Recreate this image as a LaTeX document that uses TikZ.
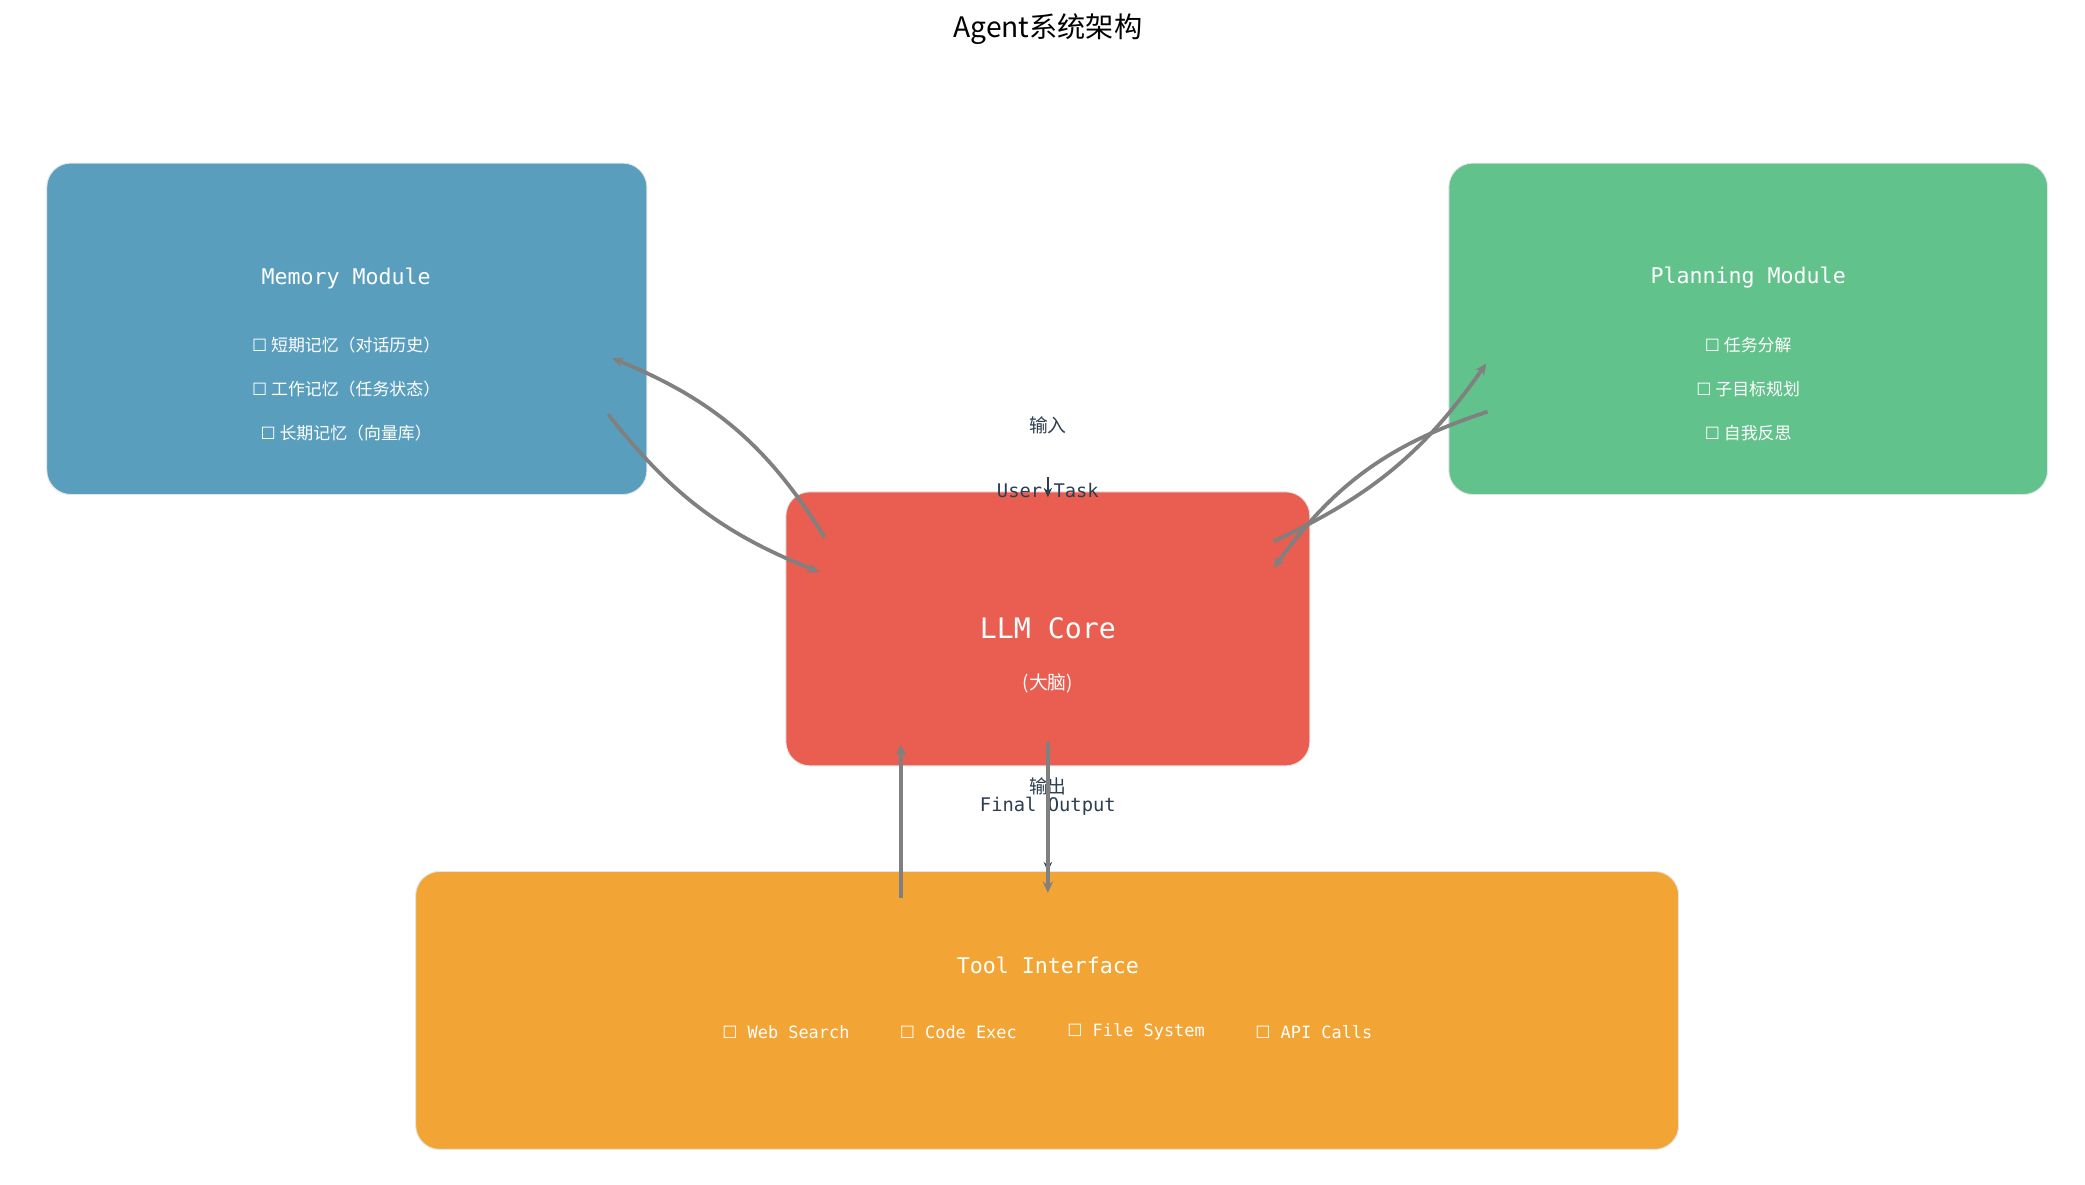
\documentclass[tikz,border=0pt]{standalone}
\usepackage{fontspec}
\setmainfont{DejaVu Sans Mono}
\newfontfamily\cjk{Noto Sans CJK SC}
\newfontfamily\sym{DejaVu Sans}
\usetikzlibrary{arrows.meta}
\definecolor{mem}{HTML}{5A9EBE}
\definecolor{plan}{HTML}{62C28B}
\definecolor{llm}{HTML}{E95E50}
\definecolor{tool}{HTML}{F2A535}
\definecolor{ink}{HTML}{2C3E50}
\newcommand{\bx}{{\sym ☐}}
\begin{document}
\begin{tikzpicture}[x=0.05cm,y=-0.05cm,
  box/.style={draw=white!90!black,line width=1pt,rounded corners=0.9cm},
  ttl/.style={text=white,font=\fontsize{23}{26}\selectfont},
  itm/.style={text=white,font=\cjk\fontsize{18}{20}\selectfont},
  lbl/.style={text=ink,font=\fontsize{20}{22}\selectfont},
  arr/.style={draw=gray,line width=4pt,-{Stealth[length=12pt,width=11pt]}}]
\useasboundingbox (0,0) rectangle (1560,886);
\node[font=\cjk\fontsize{30}{34}\selectfont] (title) at (784,22) {Agent系统架构};
\fill[mem,box] (35,122) rectangle (484,370);
\fill[plan,box] (1084,122) rectangle (1532,370);
\fill[llm,box] (588,368) rectangle (980,573);
\fill[tool,box] (311,652) rectangle (1256,860);
\node[ttl] (mt) at (259,208) {Memory Module};
\node[itm] (m1) at (259,258) {\bx\ 短期记忆（对话历史）};
\node[itm] (m2) at (259,291) {\bx\ 工作记忆（任务状态）};
\node[itm] (m3) at (259,324) {\bx\ 长期记忆（向量库）};
\node[ttl] (pt) at (1308,208) {Planning Module};
\node[itm] (p1) at (1308,258) {\bx\ 任务分解};
\node[itm] (p2) at (1308,291) {\bx\ 子目标规划};
\node[itm] (p3) at (1308,324) {\bx\ 自我反思};
\node[text=white,font=\fontsize{30}{34}\selectfont] (lt) at (784,470) {LLM Core};
\node[text=white,font=\cjk\fontsize{20}{22}\selectfont] (ls) at (784,511) {(大脑)};
\node[ttl] (tt) at (784,722) {Tool Interface};
\foreach \x/\t [count=\i] in {588/Web Search,717/Code Exec,850/File System,983/API Calls}
  \node[itm,font=\fontsize{18}{20}\selectfont] (t\i) at (\x,772) {\bx\ \t};
\node[lbl,font=\cjk\fontsize{20}{22}\selectfont] (in) at (784,318) {输入};
\node[lbl] (ut) at (784,367) {User Task};
\node[lbl,font=\cjk\fontsize{20}{22}\selectfont] (out) at (784,588) {输出};
\node[lbl] (fo) at (784,603) {Final Output};
\coordinate (a1) at (617,402); \coordinate (a2) at (458,268);
\coordinate (b1) at (455,310); \coordinate (b2) at (613,428);
\coordinate (c1) at (953,405); \coordinate (c2) at (1112,272);
\coordinate (d1) at (1113,308); \coordinate (d2) at (953,425);
\coordinate (e1) at (674,672); \coordinate (e2) at (674,557);
\coordinate (f1) at (784,555); \coordinate (f2) at (784,668);
\coordinate (g1) at (784,357); \coordinate (g2) at (784,372);
\coordinate (h1) at (784,560); \coordinate (h2) at (784,652);
\draw[arr] (a1) to[bend right=18] (a2);
\draw[arr] (b1) to[bend right=15] (b2);
\draw[arr] (c1) to[bend right=15] (c2);
\draw[arr] (d1) to[bend right=18] (d2);
\draw[arr] (e1) -- (e2);
\draw[draw=ink,line width=1.5pt,-{Stealth[length=10pt,width=9pt]}] (g1) -- (g2);
\draw[draw=ink,line width=1.5pt,-{Stealth[length=10pt,width=9pt]}] (h1) -- (h2);
\draw[arr] (f1) -- (f2);
\end{tikzpicture}
\end{document}
